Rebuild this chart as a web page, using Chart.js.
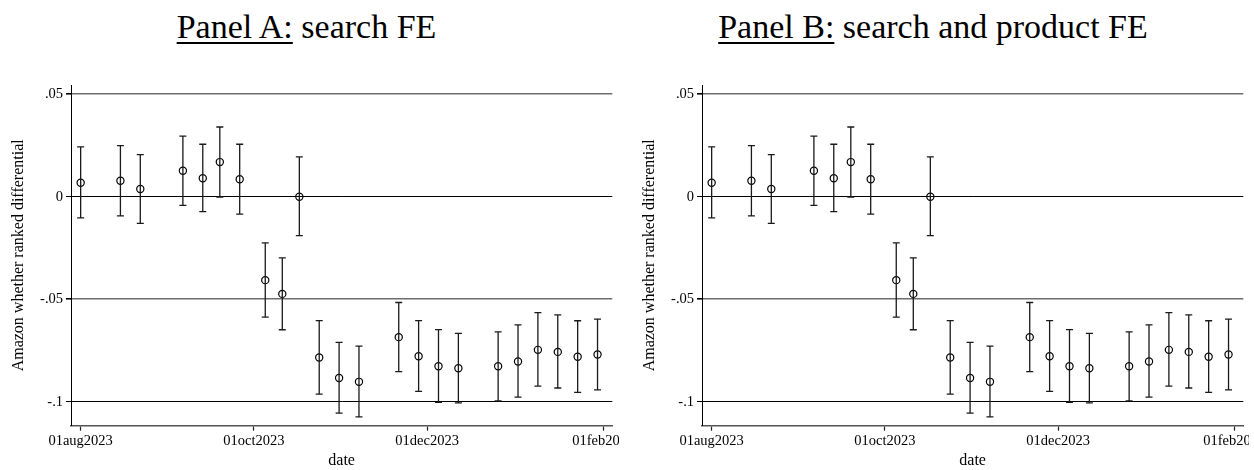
<!DOCTYPE html>
<html>
<head>
<meta charset="utf-8">
<script src="https://cdn.jsdelivr.net/npm/chart.js@4/dist/chart.umd.min.js"></script>
<style>
  html, body { margin: 0; padding: 0; background: #fff; overflow: hidden; }
  body { width: 1254px; height: 470px; position: relative; font-family: 'Liberation Serif', 'Times New Roman', serif; }
  .title {
    position: absolute; top: 10px; font-size: 34px; line-height: 34px;
    text-align: center; color: #000; white-space: nowrap;
  }
  .title u { text-decoration-thickness: 1.5px; text-underline-offset: 4px; }
  .panel { position: absolute; top: 0; height: 470px; overflow: hidden; }
</style>
</head>
<body>
<div class="title" style="left:0;width:613px"><u>Panel A:</u> search FE</div>
<div class="title" style="left:620px;width:626px"><u>Panel B:</u> search and product FE</div>
<div class="panel" style="left:0;width:619px"><canvas id="panel-a" width="680" height="470"></canvas></div>
<div class="panel" style="left:631px;width:618px"><canvas id="panel-b" width="680" height="470"></canvas></div>
<script>
// Weekly estimates (same values in both panels).
const dates = [
  "2023-08-01", "2023-08-15", "2023-08-22", "2023-09-06", "2023-09-13",
  "2023-09-19", "2023-09-26", "2023-10-05", "2023-10-11", "2023-10-17",
  "2023-10-24", "2023-10-31", "2023-11-07", "2023-11-21", "2023-11-28",
  "2023-12-05", "2023-12-12", "2023-12-26", "2024-01-02", "2024-01-09",
  "2024-01-16", "2024-01-23", "2024-01-30",
];
const estimates = [
  0.0068, 0.0078, 0.0038, 0.0127, 0.009, 0.0169, 0.0085, -0.0407, -0.0474,
  0.0, -0.0784, -0.0884, -0.0903, -0.0685, -0.0778, -0.0827, -0.0837,
  -0.0827, -0.0804, -0.0747, -0.0757, -0.0781, -0.077,
];
const lower = [
  -0.0103, -0.0093, -0.013, -0.0042, -0.0073, -0.0002, -0.0085, -0.0587,
  -0.0649, -0.019, -0.0963, -0.1056, -0.1074, -0.0853, -0.095, -0.1003,
  -0.1006, -0.0996, -0.0978, -0.0924, -0.0933, -0.0954, -0.0942,
];
const upper = [
  0.0243, 0.0249, 0.0205, 0.0296, 0.0256, 0.034, 0.0256, -0.0225, -0.0298,
  0.0194, -0.0604, -0.0711, -0.0729, -0.0516, -0.0604, -0.0648, -0.0667,
  -0.0659, -0.0625, -0.0565, -0.0576, -0.0605, -0.0597,
];

const xTickDates = ["2023-08-01", "2023-10-01", "2023-12-01", "2024-02-01"];
const xTickLabels = ["01aug2023", "01oct2023", "01dec2023", "01feb2024"];
const yTicks = [-0.1, -0.05, 0, 0.05];
const yTickLabels = ["-.1", "-.05", "0", ".05"];

// days since 01aug2023
const origin = Date.UTC(2023, 7, 1);
const toDay = (d) => {
  const [y, m, dd] = d.split("-").map(Number);
  return (Date.UTC(y, m - 1, dd) - origin) / 86400000;
};

Chart.defaults.font.family = "'Liberation Serif', 'Times New Roman', serif";
Chart.defaults.color = "#000";

const errorBars = {
  id: "errorBars",
  afterDatasetsDraw(chart) {
    const { ctx, scales } = chart;
    ctx.save();
    ctx.strokeStyle = "#1a1a1a";
    ctx.lineWidth = 1.3;
    dates.forEach((d, i) => {
      const x = scales.x.getPixelForValue(toDay(d));
      const yHi = scales.y.getPixelForValue(upper[i]);
      const yLo = scales.y.getPixelForValue(lower[i]);
      ctx.beginPath();
      ctx.moveTo(x, yHi);
      ctx.lineTo(x, yLo);
      ctx.moveTo(x - 3.5, yHi);
      ctx.lineTo(x + 3.5, yHi);
      ctx.moveTo(x - 3.5, yLo);
      ctx.lineTo(x + 3.5, yLo);
      ctx.stroke();
    });
    ctx.restore();
  },
};

function drawPanel(id) {
  new Chart(document.getElementById(id), {
    type: "scatter",
    data: {
      datasets: [
        {
          data: dates.map((d, i) => ({ x: toDay(d), y: estimates[i] })),
          pointStyle: "circle",
          pointRadius: 3.6,
          pointBorderWidth: 1.2,
          borderColor: "#000",
          backgroundColor: "rgba(0,0,0,0)",
        },
      ],
    },
    options: {
      responsive: false,
      animation: false,
      layout: { padding: { top: 85, right: 67.7, bottom: 0, left: 0 } },
      plugins: { legend: { display: false }, tooltip: { enabled: false } },
      scales: {
        x: {
          type: "linear",
          min: -3.4,
          max: 187.2,
          afterBuildTicks: (scale) => {
            scale.ticks = xTickDates.map((d) => ({ value: toDay(d) }));
          },
          afterFit: (scale) => { scale.height = 44.3; },
          ticks: {
            autoSkip: false,
            maxRotation: 0,
            minRotation: 0,
            padding: 2,
            font: { size: 14.5 },
            callback: (value, index) => xTickLabels[index],
          },
          grid: { drawOnChartArea: false, tickLength: 5, tickColor: "#222", tickWidth: 1.2 },
          border: { color: "#555", width: 1.5 },
          title: { display: true, text: "date", font: { size: 16 }, padding: { top: 0, bottom: 0 } },
        },
        y: {
          min: -0.1117,
          max: 0.0545,
          afterBuildTicks: (scale) => {
            scale.ticks = yTicks.map((v) => ({ value: v }));
          },
          afterFit: (scale) => { scale.width = 71; },
          ticks: {
            padding: 3,
            font: { size: 14.5 },
            callback: (value, index) => yTickLabels[index],
          },
          grid: {
            tickLength: 5,
            color: (ctx) => (Math.abs(ctx.tick.value) === 0.05 ? "#6e6e6e" : "#000"),
            lineWidth: (ctx) => (Math.abs(ctx.tick.value) === 0.05 ? 1.6 : 1),
            tickColor: "#000",
          },
          border: { color: "#000", width: 1 },
          title: {
            display: true,
            text: "Amazon whether ranked differential",
            font: { size: 16 },
            padding: { top: 9, bottom: 0 },
          },
        },
      },
    },
    plugins: [errorBars],
  });
}

drawPanel("panel-a");
drawPanel("panel-b");
</script>
</body>
</html>
